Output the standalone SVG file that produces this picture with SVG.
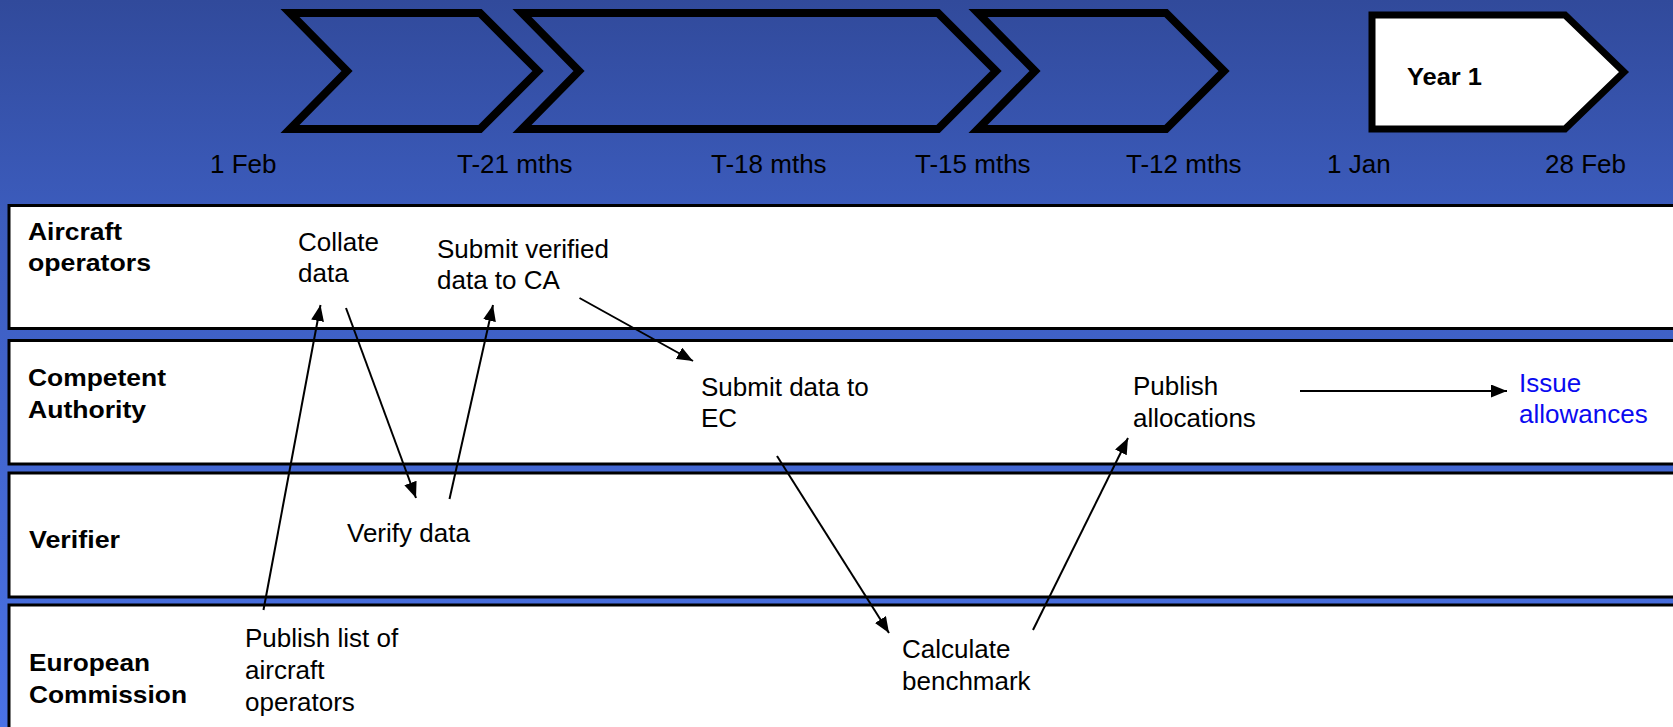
<svg xmlns="http://www.w3.org/2000/svg" width="1673" height="727" viewBox="0 0 1673 727">
<defs>
<linearGradient id="bg" x1="0" y1="0" x2="0" y2="1">
<stop offset="0" stop-color="#314a9b"/>
<stop offset="0.3" stop-color="#3c5cbd"/>
<stop offset="1" stop-color="#4a72e6"/>
</linearGradient>
<marker id="ah" markerUnits="userSpaceOnUse" markerWidth="18" markerHeight="14" refX="16" refY="6.5" orient="auto">
<path d="M0,0 L16,6.5 L0,13 Z" fill="#000"/>
</marker>
<style>
.chev{fill:none;stroke:#000;stroke-width:8;stroke-linejoin:miter;stroke-miterlimit:10}
.lane{fill:#fff;stroke:#000;stroke-width:3}
.t{font-family:"Liberation Sans",Arial,sans-serif;font-size:26px;fill:#000}
.b{font-family:"Liberation Sans",Arial,sans-serif;font-size:24px;font-weight:bold;fill:#000}
.blue{fill:#0a0af0}
.c{stroke:#000;stroke-width:2;fill:none;marker-end:url(#ah)}
</style>
</defs>
<rect x="0" y="0" width="1673" height="727" fill="url(#bg)"/>

<g id="timeline">
<path class="chev" d="M290,13 L480,13 L538,71 L480,129 L290,129 L347,71 Z"/>
<path class="chev" d="M522,13 L938,13 L996,71 L938,129 L522,129 L579,71 Z"/>
<path class="chev" d="M978,13 L1166,13 L1224,71 L1166,129 L978,129 L1035,71 Z"/>
<g id="year1">
<path d="M1372,15 L1565,15 L1624,72 L1565,129 L1372,129 Z" fill="#fff" stroke="#000" stroke-width="7"/>
<text class="b" x="1407" y="85" textLength="75" lengthAdjust="spacingAndGlyphs">Year 1</text>
</g>
<text class="t" x="210" y="173">1 Feb</text>
<text class="t" x="457" y="173">T-21 mths</text>
<text class="t" x="711" y="173">T-18 mths</text>
<text class="t" x="915" y="173">T-15 mths</text>
<text class="t" x="1126" y="173">T-12 mths</text>
<text class="t" x="1327" y="173">1 Jan</text>
<text class="t" x="1545" y="173">28 Feb</text>
</g>

<g id="lane-aircraft-operators">
<rect class="lane" x="9" y="205.5" width="1700" height="123"/>
<text class="b" x="28" y="240" textLength="94" lengthAdjust="spacingAndGlyphs">Aircraft</text>
<text class="b" x="28" y="271" textLength="123" lengthAdjust="spacingAndGlyphs">operators</text>
</g>
<g id="lane-competent-authority">
<rect class="lane" x="9" y="340.5" width="1700" height="123.5"/>
<text class="b" x="28" y="386" textLength="138" lengthAdjust="spacingAndGlyphs">Competent</text>
<text class="b" x="28" y="418" textLength="118" lengthAdjust="spacingAndGlyphs">Authority</text>
</g>
<g id="lane-verifier">
<rect class="lane" x="9" y="473" width="1700" height="124"/>
<text class="b" x="29" y="548" textLength="91" lengthAdjust="spacingAndGlyphs">Verifier</text>
</g>
<g id="lane-european-commission">
<rect class="lane" x="9" y="605" width="1700" height="200"/>
<text class="b" x="29" y="671" textLength="121" lengthAdjust="spacingAndGlyphs">European</text>
<text class="b" x="29" y="703" textLength="158" lengthAdjust="spacingAndGlyphs">Commission</text>
</g>

<g id="node-collate-data">
<text class="t" x="298" y="251">Collate</text>
<text class="t" x="298" y="282">data</text>
</g>
<g id="node-submit-verified">
<text class="t" x="437" y="258">Submit verified</text>
<text class="t" x="437" y="289">data to CA</text>
</g>
<g id="node-submit-ec">
<text class="t" x="701" y="396">Submit data to</text>
<text class="t" x="701" y="427">EC</text>
</g>
<g id="node-publish-allocations">
<text class="t" x="1133" y="395">Publish</text>
<text class="t" x="1133" y="427">allocations</text>
</g>
<g id="node-issue-allowances">
<text class="t blue" x="1519" y="392">Issue</text>
<text class="t blue" x="1519" y="423">allowances</text>
</g>
<g id="node-verify-data">
<text class="t" x="347" y="542">Verify data</text>
</g>
<g id="node-publish-list">
<text class="t" x="245" y="647">Publish list of</text>
<text class="t" x="245" y="679">aircraft</text>
<text class="t" x="245" y="711">operators</text>
</g>
<g id="node-calculate-benchmark">
<text class="t" x="902" y="658">Calculate</text>
<text class="t" x="902" y="690">benchmark</text>
</g>

<g id="connectors">
<line class="c" x1="263.5" y1="610" x2="320.5" y2="305"/>
<line class="c" x1="346" y1="308" x2="416" y2="498"/>
<line class="c" x1="449.5" y1="499" x2="493" y2="305"/>
<line class="c" x1="579.5" y1="298" x2="693" y2="361"/>
<line class="c" x1="777" y1="456" x2="889" y2="633"/>
<line class="c" x1="1033" y1="630" x2="1128" y2="438"/>
<line class="c" x1="1300" y1="391" x2="1507" y2="391"/>
</g>
</svg>
